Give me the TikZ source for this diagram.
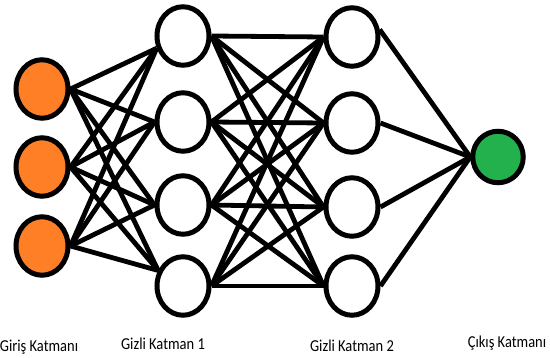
\documentclass[tikz,border=0pt]{standalone}
\usepackage{fontspec}
\setmainfont{Carlito}
\usetikzlibrary{shapes.geometric,backgrounds}
\definecolor{inorange}{RGB}{255,127,39}
\definecolor{outgreen}{RGB}{34,177,76}
\begin{document}
\begin{tikzpicture}[x=1pt,y=-1pt,
  neuron/.style={ellipse,draw=black,line width=5pt,minimum width=52pt,minimum height=58.5pt,inner sep=0pt},
  inneuron/.style={neuron,fill=inorange},
  hidneuron/.style={neuron,fill=white},
  outneuron/.style={neuron,fill=outgreen,minimum width=50.5pt,minimum height=51.5pt},
  link/.style={line width=4.8pt,black},
  layerlabel/.style={anchor=base,inner sep=0pt,font=\fontsize{14.5}{16}\selectfont}]
\path[use as bounding box] (0,0) rectangle (550,358);

% input layer
\node[inneuron] (i1) at (42,89) {};
\node[inneuron] (i2) at (42,167) {};
\node[inneuron] (i3) at (42,246) {};

% first hidden layer
\node[hidneuron] (a1) at (183,36) {};
\node[hidneuron] (a2) at (183,122) {};
\node[hidneuron] (a3) at (183,205) {};
\node[hidneuron] (a4) at (183,286) {};

% second hidden layer
\node[hidneuron] (b1) at (352,37) {};
\node[hidneuron] (b2) at (352,123) {};
\node[hidneuron] (b3) at (352,207) {};
\node[hidneuron] (b4) at (352,286) {};

% output layer
\node[outneuron] (o) at (498,157) {};

% connections
\begin{scope}[on background layer]
  \foreach \i in {1,2,3}
    \foreach \j/\ang in {1/205,2/180,3/180,4/148}
      \draw[link] (i\i.east) -- (a\j.\ang);
  \foreach \i in {1,...,4}
    \foreach \j in {1,...,4}
      \draw[link] (a\i.east) -- (b\j.west);
  \foreach \i/\ang in {1/15,2/0,3/0,4/0}
    \draw[link] (b\i.\ang) -- (o.west);
\end{scope}

% layer names
\node[layerlabel] (l0) at (39,352) {\scalebox{1}[1.15]{Giriş Katmanı}};
\node[layerlabel] (l1) at (163,350) {\scalebox{1}[1.15]{Gizli Katman 1}};
\node[layerlabel] (l2) at (352,352) {\scalebox{1}[1.15]{Gizli Katman 2}};
\node[layerlabel] (l3) at (507,348) {\scalebox{1}[1.15]{Çıkış Katmanı}};
\end{tikzpicture}
\end{document}
